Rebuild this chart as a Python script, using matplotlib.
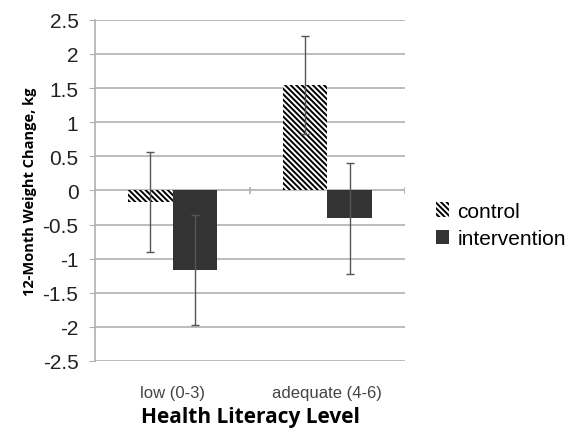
import numpy as np
import matplotlib
matplotlib.use("Agg")
import matplotlib.pyplot as plt

categories = ["low (0-3)", "adequate (4-6)"]
series = ["control", "intervention"]
control = [-0.17, 1.54]
control_err = [0.73, 0.72]
intervention = [-1.17, -0.41]
intervention_err = [0.81, 0.81]
yticks = [2.5, 2, 1.5, 1, 0.5, 0, -0.5, -1, -1.5, -2, -2.5]

plt.rcParams['font.family'] = ['Liberation Sans', 'DejaVu Sans']
plt.rcParams['hatch.linewidth'] = 1.4

fig = plt.figure(figsize=(5.8, 4.35), dpi=100)
ax = fig.add_axes([0.164, 0.168, 0.534, 0.784])

x = np.arange(len(categories))
w = 0.29
err_kw = dict(ecolor="#555555", elinewidth=1.0, capsize=3, capthick=1.0)
ax.bar(x - w / 2, control, w, color="white", hatch="\\" * 6, edgecolor="black",
       linewidth=0, yerr=control_err, error_kw=err_kw, label=series[0], zorder=2)
ax.bar(x + w / 2, intervention, w, color="#333333", linewidth=0,
       yerr=intervention_err, error_kw=err_kw, label=series[1], zorder=2)

ax.set_xlim(-0.5, len(categories) - 0.5)
ax.set_ylim(-2.5, 2.5)
ax.set_yticks(yticks)
ax.set_yticklabels([("%g" % v) for v in yticks], fontsize=15, color="#222222")
ax.yaxis.grid(True, color="#b0b0b0", linewidth=1.2, zorder=0)
ax.set_axisbelow(True)
for s in ["top", "right", "bottom"]:
    ax.spines[s].set_visible(False)
ax.spines["left"].set_color("#b0b0b0")
ax.spines["left"].set_linewidth(1.2)
ax.tick_params(axis="y", length=4, color="#b0b0b0", pad=8)

# category boundary tick marks on the zero line
bounds = np.arange(len(categories) + 1) - 0.5
ax.vlines(bounds, -0.05, 0.05, color="#b0b0b0", linewidth=1.2, zorder=1)

ax.set_xticks(x)
ax.set_xticklabels(categories, fontsize=12, color="#444444")
ax.tick_params(axis="x", length=0, pad=17)

ax.set_ylabel("12-Month Weight Change, kg", fontsize=10.5, fontweight="bold",
              family=["Open Sans", "DejaVu Sans"], labelpad=4)
ax.set_xlabel("Health Literacy Level", fontsize=15, fontweight="bold",
              family=["Open Sans", "DejaVu Sans"], labelpad=5)

fig.legend(loc="center left", bbox_to_anchor=(0.72, 0.48), frameon=False,
           fontsize=15, handlelength=0.6, handleheight=0.7, handletextpad=0.4,
           labelspacing=0.4)

fig.savefig("out.png", dpi=100)
